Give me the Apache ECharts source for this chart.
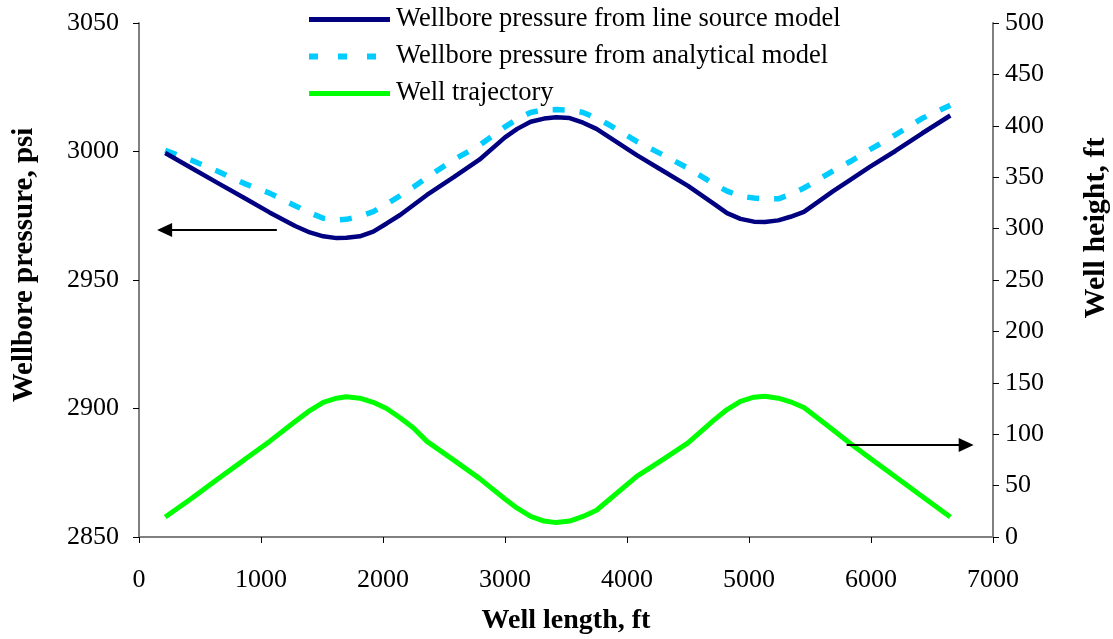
<!DOCTYPE html>
<html>
<head>
<meta charset="utf-8">
<script src="https://cdn.jsdelivr.net/npm/echarts@6/dist/echarts.min.js"></script>
<style>
  html, body { margin: 0; padding: 0; background: #fff; }
  #chart { width: 1113px; height: 639px; }
</style>
</head>
<body>
<div id="chart"></div>
<script>
// Position along the well, ft
const wellLength = [215, 430, 640, 860, 1070, 1280, 1400, 1510, 1620, 1700, 1810, 1920, 2030, 2140, 2250, 2360, 2580, 2790, 3000, 3100, 3210, 3320, 3420, 3530, 3640, 3750, 3860, 4080, 4290, 4500, 4710, 4820, 4930, 5040, 5130, 5240, 5340, 5450, 5560, 5690, 5830, 5990, 6200, 6420, 6650];

// Wellbore pressure, psi (line source model)
const pressureLineSource = [2999.4, 2993.6, 2987.9, 2982.0, 2976.3, 2971.0, 2968.5, 2967.0, 2966.3, 2966.4, 2967.0, 2968.8, 2972.0, 2975.3, 2979.2, 2983.1, 2990.0, 2996.8, 3005.5, 3008.8, 3011.6, 3012.8, 3013.3, 3013.0, 3011.2, 3008.8, 3005.4, 2998.6, 2992.6, 2986.6, 2979.7, 2976.0, 2973.8, 2972.7, 2972.6, 2973.2, 2974.6, 2976.5, 2980.2, 2984.6, 2989.0, 2994.0, 3000.2, 3007.1, 3014.0];

// Wellbore pressure, psi (analytical model)
const pressureAnalytical = [3000.5, 2996.6, 2992.4, 2987.6, 2983.8, 2978.9, 2976.2, 2974.0, 2973.3, 2973.6, 2974.8, 2976.6, 2979.5, 2982.8, 2986.2, 2989.9, 2996.8, 3002.4, 3009.6, 3012.6, 3015.2, 3016.2, 3016.3, 3016.1, 3015.2, 3013.0, 3010.2, 3003.9, 2998.8, 2993.5, 2987.4, 2984.6, 2982.6, 2981.9, 2981.5, 2981.6, 2983.3, 2985.8, 2988.8, 2992.5, 2996.1, 3000.7, 3006.5, 3012.9, 3018.0];

// Well height, ft (trajectory)
const wellHeight = [19.5, 37.4, 56.0, 74.8, 93.0, 112.3, 123.0, 131.0, 135.0, 136.5, 135.0, 131.0, 125.0, 116.0, 106.0, 93.0, 74.8, 57.0, 37.0, 28.0, 20.0, 15.5, 14.0, 15.5, 20.0, 26.0, 37.0, 59.0, 75.0, 91.5, 113.4, 124.0, 132.0, 136.0, 137.0, 135.0, 131.5, 126.0, 116.0, 104.0, 91.0, 76.9, 58.6, 39.5, 19.5];

// Axis scales
const xTicks = { min: 0, max: 7000, interval: 1000 };
const pressureTicks = { min: 2850, max: 3050, interval: 50 };
const heightTicks = { min: 0, max: 500, interval: 50 };

// Pointer arrows: [fromLength, toLength, level]
const pressureArrow = [1130, 210, 2969.5];
const heightArrow = [5800, 6780, 89.5];

const seriesNames = [
  'Wellbore pressure from line source model',
  'Wellbore pressure from analytical model',
  'Well trajectory'
];

const pairs = (xs, ys) => xs.map((x, i) => [x, ys[i]]);

const FONT = '"Liberation Serif", "Times New Roman", serif';

function arrowLine(a) {
  return {
    silent: true,
    symbol: ['none', 'triangle'],
    symbolSize: [14, 15],
    label: { show: false },
    lineStyle: { color: '#000', width: 2, type: 'solid' },
    itemStyle: { color: '#000' },
    emphasis: { disabled: true },
    data: [[{ coord: [a[0], a[2]] }, { coord: [a[1], a[2]] }]]
  };
}

const chart = echarts.init(document.getElementById('chart'), null, { renderer: 'canvas' });

const plain = v => String(v);

const axisCommon = {
  axisLine: { show: true, lineStyle: { color: '#808080', width: 2 } },
  axisTick: { show: true, inside: false, length: 6, lineStyle: { color: '#000', width: 1 } },
  splitLine: { show: false },
  axisLabel: { color: '#000', fontFamily: FONT, fontSize: 26, formatter: plain },
  nameTextStyle: { color: '#000', fontFamily: FONT, fontSize: 28, fontWeight: 'bold' }
};

chart.setOption({
  animation: false,
  backgroundColor: '#fff',
  grid: { left: 139, right: 120, top: 23, bottom: 102, containLabel: false, outerBoundsMode: 'none' },
  legend: {
    orient: 'vertical',
    left: 301,
    top: 1,
    itemWidth: 81,
    itemHeight: 12,
    itemGap: 10,
    itemStyle: { opacity: 0 },
    textStyle: { color: '#000', fontFamily: FONT, fontSize: 26.5, padding: [0, 0, 0, 1] },
    data: [
      { name: seriesNames[0], lineStyle: { width: 5 } },
      { name: seriesNames[1], lineStyle: { width: 6, type: [9, 20] } },
      { name: seriesNames[2], lineStyle: { width: 5 } }
    ]
  },
  xAxis: Object.assign({}, axisCommon, {
    type: 'value',
    min: xTicks.min, max: xTicks.max, interval: xTicks.interval,
    name: 'Well length, ft',
    nameLocation: 'middle',
    nameGap: 70,
    axisLabel: Object.assign({}, axisCommon.axisLabel, { margin: 30 })
  }),
  yAxis: [
    Object.assign({}, axisCommon, {
      type: 'value', position: 'left',
      min: pressureTicks.min, max: pressureTicks.max, interval: pressureTicks.interval,
      name: 'Wellbore pressure, psi',
      nameLocation: 'middle',
      nameRotate: 90,
      nameGap: 100,
      nameTextStyle: Object.assign({}, axisCommon.nameTextStyle, { fontSize: 29, padding: [0, 0, 0, 30] }),
      axisLabel: Object.assign({}, axisCommon.axisLabel, { margin: 20 })
    }),
    Object.assign({}, axisCommon, {
      type: 'value', position: 'right',
      min: heightTicks.min, max: heightTicks.max, interval: heightTicks.interval,
      name: 'Well height, ft',
      nameLocation: 'middle',
      nameRotate: 90,
      nameGap: 88,
      nameTextStyle: Object.assign({}, axisCommon.nameTextStyle, { fontSize: 30, padding: [0, 0, 0, 104] }),
      axisLabel: Object.assign({}, axisCommon.axisLabel, { margin: 12 })
    })
  ],
  series: [
    {
      name: seriesNames[0],
      type: 'line',
      yAxisIndex: 0,
      data: pairs(wellLength, pressureLineSource),
      symbol: 'none',
      lineStyle: { color: '#000080', width: 4.5 },
      itemStyle: { color: '#000080' },
      z: 3,
      markLine: arrowLine(pressureArrow)
    },
    {
      name: seriesNames[1],
      type: 'line',
      yAxisIndex: 0,
      data: pairs(wellLength, pressureAnalytical),
      symbol: 'none',
      lineStyle: { color: '#00CCFF', width: 5.5, type: [12, 15] },
      itemStyle: { color: '#00CCFF' },
      z: 2
    },
    {
      name: seriesNames[2],
      type: 'line',
      yAxisIndex: 1,
      data: pairs(wellLength, wellHeight),
      symbol: 'none',
      lineStyle: { color: '#00FF00', width: 5 },
      itemStyle: { color: '#00FF00' },
      z: 3,
      markLine: arrowLine(heightArrow)
    }
  ]
});
</script>
</body>
</html>
